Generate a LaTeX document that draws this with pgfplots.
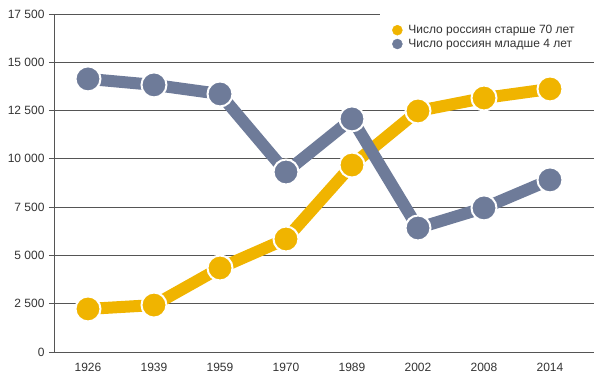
\documentclass[border=0pt]{standalone}
\usepackage{pgfplots}
\pgfplotsset{compat=1.18}
\usepackage{fontspec}
\setmainfont{Liberation Sans}
\definecolor{cOr}{HTML}{F0B400}
\definecolor{cBl}{HTML}{6E7B99}
\definecolor{cGr}{HTML}{555555}
\definecolor{cTx}{HTML}{333333}
\begin{document}
\begin{tikzpicture}
\path[use as bounding box] (0,0) rectangle (594pt,384pt);
\begin{axis}[
  at={(54pt,32pt)}, anchor=south west,
  scale only axis, width=540pt, height=338pt,
  xmin=-0.515, xmax=7.667, ymin=0, ymax=17500,
  scaled y ticks=false,
  axis x line*=bottom, axis y line*=left,
  axis line style={cGr, line width=0.8pt},
  ytick={0,2500,5000,7500,10000,12500,15000,17500},
  yticklabels={0,2 500,5 000,7 500,10 000,12 500,15 000,17 500},
  xtick={0,...,7},
  xticklabels={1926,1939,1959,1970,1989,2002,2008,2014},
  ymajorgrids, grid style={cGr, line width=0.8pt},
  tick align=outside, major tick length=5pt,
  y tick style={cGr, line width=0.8pt},
  x tick style={draw=none},
  tick label style={font=\fontsize{12}{14}\selectfont, text=cTx},
  yticklabel style={xshift=-1pt},
  xticklabel style={yshift=-3pt},
  clip=false,
  legend cell align=left,
  legend style={at={(rel axis cs:0.604,0.988)}, anchor=north west, draw=none, fill=white,
    font=\fontsize{12}{14}\selectfont, text=cTx, inner xsep=12pt, inner ysep=5pt,
    row sep=0pt, /tikz/column 1/.style={column sep=4pt}},
]
\fill[white] (rel axis cs:0.604,0.985) rectangle (rel axis cs:1.01,1.01);
\addplot[cOr, line width=12pt, mark=*, mark size=12.5pt, forget plot,
  mark options={fill=cOr, draw=white, line width=2pt}]
  coordinates {(0,2230) (1,2430) (2,4350) (3,5850) (4,9680) (5,12480) (6,13150) (7,13620)};
\addplot[cBl, line width=12pt, mark=*, mark size=12.5pt, forget plot,
  mark options={fill=cBl, draw=white, line width=2pt}]
  coordinates {(0,14140) (1,13830) (2,13360) (3,9320) (4,12070) (5,6420) (6,7460) (7,8910)};
\addlegendimage{only marks, mark=*, mark size=5pt, color=cOr, mark options={draw=none, fill=cOr}}
\addlegendentry{Число россиян старше 70 лет}
\addlegendimage{only marks, mark=*, mark size=5pt, color=cBl, mark options={draw=none, fill=cBl}}
\addlegendentry{Число россиян младше 4 лет}
\end{axis}
\end{tikzpicture}
\end{document}
